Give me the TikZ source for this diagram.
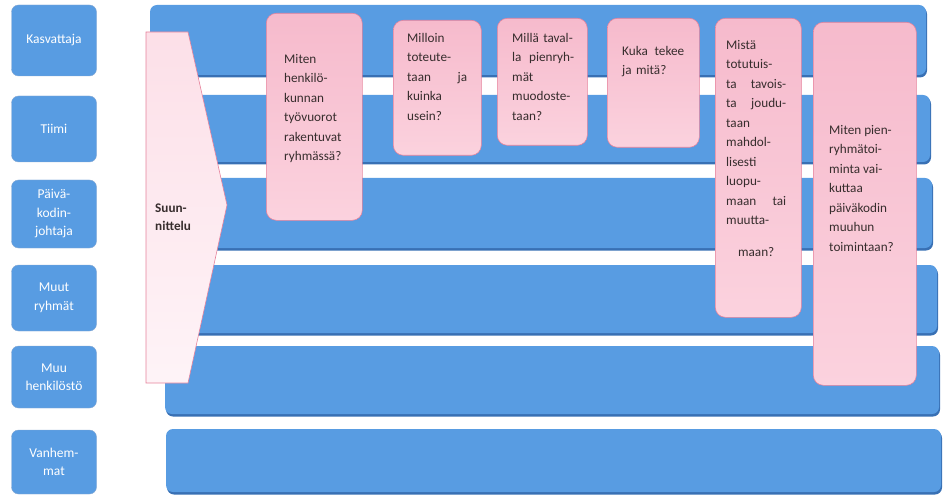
\documentclass[tikz,border=0pt]{standalone}
\usepackage{fontspec}
\setmainfont{Carlito}
\usetikzlibrary{calc}

\definecolor{bandblue}{RGB}{88,156,226}
\definecolor{bandedge}{RGB}{56,112,180}
\definecolor{qline}{RGB}{230,130,155}
\definecolor{qtop}{RGB}{246,186,204}
\definecolor{qmid}{RGB}{254,236,242}
\definecolor{qbot}{RGB}{251,210,222}
\definecolor{qtext}{RGB}{55,45,45}

\tikzset{
  lane/.style={fill=bandblue,rounded corners=7pt},
  laneshade/.style={fill=bandedge,rounded corners=7pt},
  actor/.style={fill=bandblue,draw=bandedge!60,rounded corners=7pt,
    minimum width=85pt,text=white,align=center,inner sep=1pt,
    font=\fontsize{13.5}{18.5}\selectfont},
  question/.style={draw=qline,line width=0.6pt,rounded corners=10pt,
    top color=qtop,middle color=qmid,bottom color=qbot,anchor=north west},
  qtext/.style={anchor=north west,align=left,inner sep=0pt,text=qtext,
    font=\fontsize{13.2}{19.5}\selectfont}
}

\begin{document}
\begin{tikzpicture}[x=1pt,y=-1pt]
          \useasboundingbox (0,0) rectangle (944,497);
          % the six lanes
          \foreach \t/\b/\l/\r in {5/75/150/926,95/162/153/930,178/248/156/932,
                                   265/333/160/937,346/414/165/939,429/492/166/941}{
            \fill[laneshade] (\l+1,\t+2) rectangle (\r+1,\b+2.5);
            \fill[lane] (\l,\t) rectangle (\r,\b);
          }
          % who
          \node[actor,minimum height=71pt] (kasvattaja) at (54,40.5) {Kasvattaja};
          \node[actor,minimum height=66pt] (tiimi) at (54,129) {Tiimi};
          \node[actor,minimum height=68pt] (johtaja) at (54,214) {Päivä-\\kodin-\\johtaja};
          \node[actor,minimum height=66pt] (ryhmat) at (54,298) {Muut\\ryhmät};
          \node[actor,minimum height=62pt] (henkilosto) at (54,377) {Muu\\henkilöstö};
          \node[actor,minimum height=64pt] (vanhemmat) at (54,462) {Vanhem-\\mat};
          % planning arrow
          \draw[qline,line width=0.6pt,top color=qbot!70!white,bottom color=qmid!60!white]
            (146,32)--(188,32)--(227,205)--(188,383)--(146,383)--cycle;
          \node[qtext,font=\fontsize{13.2}{18}\selectfont\bfseries] (suunnittelu) at (155,204) {Suun-\\nittelu};
          % questions
          \node[question,minimum width=96pt,minimum height=207pt] (q1) at (266,13) {};
          \node[question,minimum width=88pt,minimum height=135pt] (q2) at (393,20) {};
          \node[question,minimum width=90pt,minimum height=127pt] (q3) at (497,18) {};
          \node[question,minimum width=92pt,minimum height=129pt] (q4) at (607,18) {};
          \node[question,minimum width=86pt,minimum height=299pt] (q5) at (715,18) {};
          \node[question,minimum width=103pt,minimum height=363pt] (q6) at (813,22) {};
          \node[qtext] (t1) at (284,54) {Miten\\henkilö-\\kunnan\\työvuorot\\rakentuvat\\ryhmässä?};
          \node[qtext,text width=60pt] (t2) at (407,33) {Milloin\\toteute-\\taan\hfill ja\\kuinka\\usein?};
          \node[qtext,text width=62pt] (t3) at (512,33) {Millä taval-\\la\hfill pienryh-\\mät\\muodoste-\\taan?};
          \node[qtext,text width=62pt] (t4) at (622,46) {Kuka\hfill tekee\\ja mitä?};
          \node[qtext,text width=60pt] (t5) at (726,40) {Mistä\\totutuis-\\ta\hfill tavois-\\ta\hfill joudu-\\taan\\mahdol-\\lisesti\\luopu-\\maan\hfill tai\\muutta-\\[12.5pt]\makebox[60pt]{maan?}};
          \node[qtext] (t6) at (829,125) {Miten pien-\\ryhmätoi-\\minta vai-\\kuttaa\\päiväkodin\\muuhun\\toimintaan?};
        \end{tikzpicture}
\end{document}
